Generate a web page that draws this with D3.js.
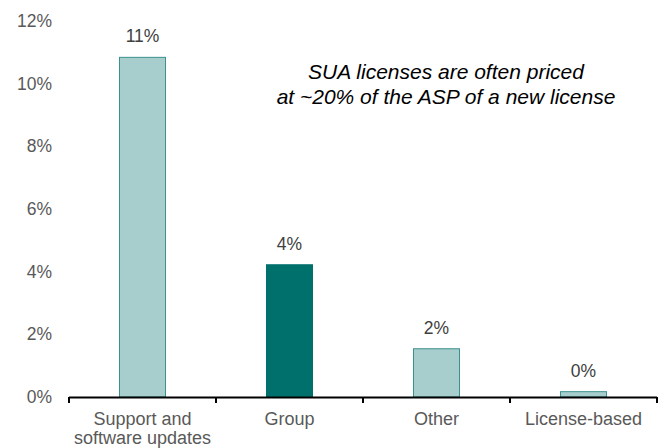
<!DOCTYPE html>
<html><head><meta charset="utf-8">
<script src="https://cdn.jsdelivr.net/npm/d3@7/dist/d3.min.js"></script>
<style>body{margin:0;background:#fff}text{font-family:"Liberation Sans",Arial,sans-serif}</style>
</head><body><svg id="c" width="667" height="448"></svg>
<script>
const categories = [["Support and","software updates"],["Group"],["Other"],["License-based"]];
const values = [10.84, 4.22, 1.54, 0.17];
const valueLabels = ["11%","4%","2%","0%"];
const highlight = [false, true, false, false];
const yTicks = [0,2,4,6,8,10,12];
const note = ["SUA licenses are often priced","at ~20% of the ASP of a new license"];

const svg = d3.select("#c");
const x = d3.scaleBand().domain(d3.range(categories.length)).range([69,657]).paddingInner(0.687).paddingOuter(0.3435);
const y = d3.scaleLinear().domain([0,12]).range([397,21]);

// y tick labels
svg.append("g").selectAll("text").data(yTicks).join("text")
  .attr("x",52).attr("y",d=>y(d)).attr("dy","0.35em").attr("text-anchor","end")
  .attr("font-size",17.5).attr("fill","#595959").text(d=>d+"%");

// bars
svg.append("g").selectAll("rect").data(values).join("rect")
  .attr("x",(d,i)=>x(i)).attr("width",x.bandwidth())
  .attr("y",d=>y(d)).attr("height",d=>y(0)-y(d))
  .attr("fill",(d,i)=>highlight[i]?"#00706C":"#A7CECD")
  .attr("stroke",(d,i)=>highlight[i]?"#00706C":"#3B918E").attr("stroke-width",1);

// value labels
svg.append("g").selectAll("text").data(values).join("text")
  .attr("x",(d,i)=>x(i)+x.bandwidth()/2).attr("y",d=>y(d)-15)
  .attr("text-anchor","middle").attr("font-size",17.5).attr("fill","#404040")
  .text((d,i)=>valueLabels[i]);

// x axis
const step = x.step();
const bounds = d3.range(categories.length+1).map(i=>69+i*step);
const ax = svg.append("g");
ax.append("line").attr("x1",69).attr("x2",657).attr("y1",397.5).attr("y2",397.5).attr("stroke","#000").attr("stroke-width",2);
ax.selectAll(".tk").data(bounds).join("line").attr("class","tk")
  .attr("x1",d=>d).attr("x2",d=>d).attr("y1",397).attr("y2",403).attr("stroke","#000").attr("stroke-width",2);
ax.selectAll(".cl").data(categories).join("text").attr("class","cl")
  .attr("text-anchor","middle").attr("font-size",18).attr("fill","#595959")
  .each(function(d,i){
    d3.select(this).selectAll("tspan").data(d).join("tspan")
      .attr("x",x(i)+x.bandwidth()/2).attr("y",(t,j)=>425+j*19).text(t=>t);
  });

// annotation
svg.append("g").selectAll("text").data(note).join("text")
  .attr("x",446).attr("y",(d,i)=>79+i*25).attr("text-anchor","middle")
  .attr("font-size",21).attr("font-style","italic").attr("fill","#000").text(d=>d);
</script></body></html>
